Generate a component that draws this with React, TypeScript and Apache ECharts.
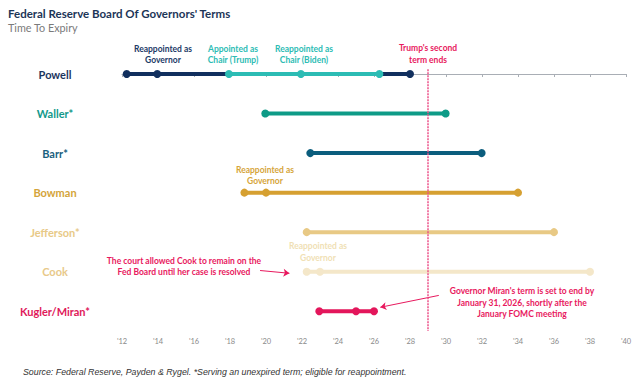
import React, { useEffect, useRef } from "react";
import * as echarts from "echarts";

const governors = ["Powell", "Waller*", "Barr*", "Bowman", "Jefferson*", "Cook", "Kugler/Miran*"];
const labelColors = ["#1b355e", "#12998a", "#1a5f7e", "#d4a43a", "#e8c987", "#e8c98a", "#e0195a"];

const powellGovernor = [2012.26, 2013.96, 2028.0];
const powellChair = [2017.94, 2021.94, 2026.3];
const waller = [2019.96, 2029.98];
const barr = [2022.46, 2031.98];
const bowman = [2018.8, 2020.0, 2034.0];
const jefferson = [2022.26, 2036.0];
const cook = [2022.26, 2023.0, 2038.0];
const kuglerMiran = [2022.96, 2025.0, 2026.0];
const trumpTermEnd = 2029.0;

const xMin = 2012;
const xMax = 2040;
const xStep = 2;

const FONT = "Lato, 'Noto Sans', sans-serif";

function seg(name: string, xs: number[], row: number, color: string, z = 2) {
  return {
    name,
    type: "line",
    yAxisIndex: 1,
    data: xs.map((x) => [x, row]),
    symbol: "circle",
    symbolSize: 8,
    lineStyle: { color, width: 4 },
    itemStyle: { color },
    z,
    silent: true,
  };
}

export default function App() {
  const ref = useRef<HTMLDivElement>(null);
  useEffect(() => {
    if (!ref.current) return;
    const chart = echarts.init(ref.current, null, { renderer: "svg" });
    const txt = (x: number, y: number, text: string, fill: string, size = 8.5, weight: any = "bold", align: any = "center") => ({
      type: "text",
      x,
      y,
      style: { text, fill, font: `${weight} ${size}px ${FONT}`, align, verticalAlign: "middle", lineHeight: 11.5 },
    });
    const rich: Record<string, any> = {};
    labelColors.forEach((c, i) => {
      rich["c" + i] = { color: c, width: 100, align: "center", fontSize: 11, fontWeight: "bold", fontFamily: FONT };
    });
    chart.setOption({
      animation: false,
      grid: { left: 122, right: 18, top: 54.25, bottom: 59, containLabel: false, outerBoundsMode: "none" },
      xAxis: {
        type: "value",
        min: xMin,
        max: xMax,
        interval: xStep,
        axisLine: { show: true, lineStyle: { color: "#a9aeb5", width: 1 } },
        axisTick: { show: true, length: 3, lineStyle: { color: "#a9aeb5" } },
        splitLine: { show: false },
        axisLabel: {
          formatter: (v: number) => "'" + String(v).slice(2),
          color: "#8a8a8a",
          fontSize: 7.5,
          fontFamily: FONT,
          margin: 6,
          showMinLabel: true,
          showMaxLabel: true,
        },
      },
      yAxis: [
        {
          type: "category",
          inverse: true,
          data: governors,
          axisLine: { show: false },
          axisTick: { show: false },
          axisLabel: {
            margin: 17,
            formatter: (v: string, i: number) => `{c${i}|${v}}`,
            rich,
          },
        },
        {
          type: "value",
          inverse: true,
          min: -0.5,
          max: 6.5,
          show: false,
        },
      ],
      series: [
        seg("Powell governor", powellGovernor, 0, "#112f5e", 2),
        seg("Powell chair", powellChair, 0, "#2cbcb4", 3),
        seg("Waller", waller, 1, "#0e9b87"),
        seg("Barr", barr, 2, "#0b5d7d"),
        seg("Bowman", bowman, 3, "#d6a031"),
        seg("Jefferson", jefferson, 4, "#e8c985"),
        seg("Cook", cook, 5, "#f4e7c9"),
        seg("Kugler/Miran", kuglerMiran, 6, "#e3165b"),
        {
          name: "Trump term end",
          type: "line",
          yAxisIndex: 1,
          data: [
            [trumpTermEnd, -0.12],
            [trumpTermEnd, 6.5],
          ],
          symbol: "none",
          lineStyle: { color: "#ec5088", width: 1.5, type: [2, 1] },
          z: 5,
          silent: true,
          markLine: {
            silent: true,
            symbol: ["none", "arrow"],
            symbolSize: 6,
            label: { show: false },
            data: [
              [
                { coord: [2019.67, 4.97], lineStyle: { color: "#e8195e", width: 1, type: "solid", curveness: 0 } },
                { coord: [2021.3, 5.04] },
              ],
              [
                { coord: [2029.6, 5.6], lineStyle: { color: "#e8195e", width: 1, type: "solid", curveness: -0.15 } },
                { coord: [2026.35, 5.9] },
              ],
            ],
          },
        },
      ],
      graphic: [
        txt(8, 13.5, "Federal Reserve Board Of Governors' Terms", "#1c3557", 11.5, "bold", "left"),
        txt(8, 27, "Time To Expiry", "#7a7a7a", 10.8, "normal", "left"),
        txt(163, 54.5, "Reappointed as\nGovernor", "#1c3a66"),
        txt(233, 54.5, "Appointed as\nChair (Trump)", "#2cbcb4"),
        txt(304, 54.5, "Reappointed as\nChair (Biden)", "#2cbcb4"),
        txt(428, 54, "Trump's second\nterm ends", "#e8195e"),
        txt(265, 175.5, "Reappointed as\nGovernor", "#d6a53a"),
        txt(318, 252, "Reappointed as\nGovernor", "#f0dfb5"),
        txt(184, 266.5, "The court allowed Cook to remain on the\nFed Board until her case is resolved", "#e8195e"),
        txt(522, 302.5, "Governor Miran's term is set to end by\nJanuary 31, 2026, shortly after the\nJanuary FOMC meeting", "#e8195e"),
        {
          type: "text",
          x: 23,
          y: 372,
          style: {
            text: "Source: Federal Reserve, Payden & Rygel. *Serving an unexpired term; eligible for reappointment.",
            fill: "#333333",
            font: "italic 8.8px 'Liberation Sans', Arial, sans-serif",
            verticalAlign: "middle",
          },
        },
      ],
    });
    return () => chart.dispose();
  }, []);
  return <div ref={ref} style={{ position: "fixed", left: 0, top: 0, width: 644, height: 390, background: "#fff" }} />;
}
